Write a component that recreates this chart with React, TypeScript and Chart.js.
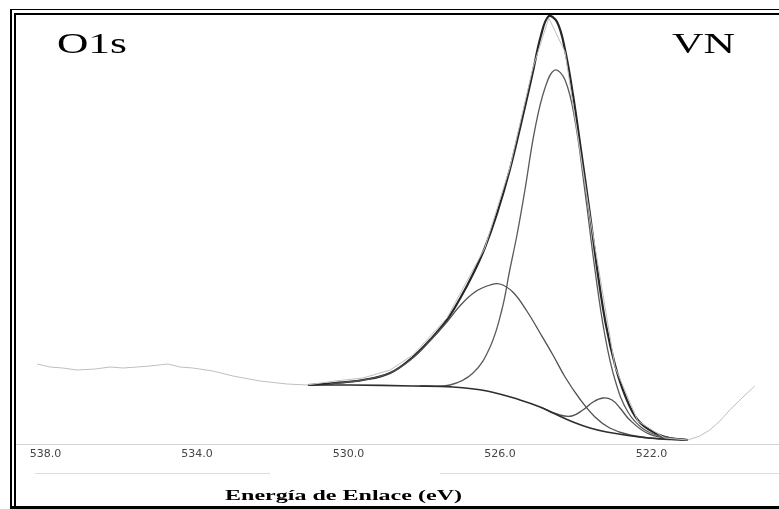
import React, { useEffect, useRef } from "react";
import { Chart, registerables } from "chart.js";

Chart.register(...registerables);

// Binding energy (eV) tick labels
const tickValues = [538, 534, 530, 526, 522];

// Raw spectrum (binding energy eV, intensity a.u.)
const rawEnergy = [538.22, 537.88, 537.55, 537.17, 536.69, 536.3, 535.95, 535.58, 535.24, 534.77, 534.45, 534.11, 533.58, 533.05, 532.34, 531.62, 531.1, 530.36, 529.62, 528.9, 528.3, 527.4, 526.4, 525.74, 525.13, 524.71, 524.28, 523.62, 522.96, 522.36, 521.64, 521.04, 520.72, 520.46, 520.19, 519.93, 519.58, 519.27];
const rawIntensity = [80, 77, 76, 74, 75, 77, 76, 77, 78, 80, 77, 76, 73, 68, 63, 60, 59, 63, 66, 74, 89, 126, 196, 276, 376, 426, 392, 227, 77, 23, 6, 4, 8, 14, 23, 34, 47, 58];

// Fitted envelope
const envEnergy = [531.07, 530.36, 529.62, 528.9, 528.3, 527.85, 527.4, 527.06, 526.71, 526.4, 526.08, 525.74, 525.42, 525.13, 524.92, 524.71, 524.49, 524.28, 524.07, 523.86, 523.62, 523.41, 523.2, 522.96, 522.7, 522.36, 521.91, 521.51, 521.04];
const envIntensity = [59, 61, 64, 71, 87, 104, 124, 145, 170, 196, 230, 274, 324, 372, 408, 428, 422, 394, 349, 294, 229, 169, 119, 79, 49, 24, 11, 6, 4];

// Shirley background
const bgEnergy = [531.07, 529.96, 528.3, 527.24, 526.34, 525.47, 524.94, 524.6, 524.07, 523.62, 523.18, 522.31, 521.65, 521.04];
const bgIntensity = [59, 59, 58, 57, 53, 44, 37, 31, 22, 16, 12, 7, 5, 4];

// Component 1 (main peak ~524.5 eV)
const p1Energy = [528.11, 527.32, 526.71, 526.26, 525.95, 525.74, 525.55, 525.34, 525.08, 524.81, 524.55, 524.28, 524.02, 523.76, 523.49, 523.23, 522.96, 522.62, 522.17, 521.64, 521.04];
const p1Intensity = [58, 59, 71, 97, 134, 174, 209, 254, 314, 356, 374, 364, 324, 254, 174, 109, 64, 32, 14, 7, 4];

// Component 2 (broad peak ~526.1 eV)
const p2Energy = [530.49, 529.62, 528.9, 528.3, 527.85, 527.4, 527.06, 526.66, 526.26, 526.0, 525.66, 525.29, 524.94, 524.6, 524.28, 523.89, 523.49, 523.1, 522.57, 521.78, 521.04];
const p2Intensity = [60, 64, 71, 86, 103, 122, 138, 152, 159, 160, 152, 133, 111, 89, 67, 45, 27, 16, 9, 5, 4];

// Component 3 (small peak ~523.3 eV)
const p3Energy = [524.94, 524.42, 524.1, 523.81, 523.54, 523.28, 523.04, 522.83, 522.57, 522.12, 521.64, 521.04];
const p3Intensity = [37, 29, 28, 34, 42, 46, 44, 36, 24, 11, 6, 4];

const pts = (xs: number[], ys: number[]) => xs.map((x, i) => ({ x, y: ys[i] }));

const decorPlugin = {
  id: "decor",
  afterDraw(chart: any) {
    const ctx = chart.ctx as CanvasRenderingContext2D;
    const W = chart.width;
    ctx.save();
    // faint duplicate axis line
    ctx.strokeStyle = "#dcdcdc";
    ctx.lineWidth = 1;
    ctx.beginPath();
    ctx.moveTo(35, 473.5);
    ctx.lineTo(270, 473.5);
    ctx.moveTo(440, 473.5);
    ctx.lineTo(W, 473.5);
    ctx.stroke();
    // double frame
    ctx.fillStyle = "#000";
    ctx.fillRect(10, 9, 2, 500);
    ctx.fillRect(14, 13, 2, 496);
    ctx.fillRect(10, 9, W - 10, 1);
    ctx.fillRect(14, 13, W - 14, 2);
    ctx.fillRect(10, 506, W - 10, 3);

    const stretched = (text: string, x: number, baseline: number, width: number, font: string) => {
      ctx.save();
      ctx.font = font;
      ctx.fillStyle = "#000";
      ctx.textBaseline = "alphabetic";
      ctx.textAlign = "left";
      const w = ctx.measureText(text).width;
      ctx.translate(x, baseline);
      ctx.scale(width / w, 1);
      ctx.fillText(text, 0, 0);
      ctx.restore();
    };
    stretched("O1s", 57, 53, 70, "30px 'Liberation Serif'");
    stretched("VN", 672, 53, 63, "30px 'Liberation Serif'");
    stretched("Energía de Enlace (eV)", 225, 500, 237, "bold 14px 'Liberation Serif'");
    ctx.restore();
  },
};

export default function App() {
  const ref = useRef<HTMLCanvasElement>(null);
  useEffect(() => {
    if (!ref.current) return;
    const line = (data: any, color: string, width: number, tension = 0.4) => ({
      data,
      borderColor: color,
      borderWidth: width,
      pointRadius: 0,
      fill: false,
      tension,
    });
    const chart = new Chart(ref.current, {
      type: "line",
      data: {
        datasets: [
          line(pts(rawEnergy, rawIntensity), "#c4bcc4", 1, 0),
          line(pts(bgEnergy, bgIntensity), "#2e2e2e", 1.6),
          line(pts(p2Energy, p2Intensity), "#505050", 1.3),
          line(pts(p3Energy, p3Intensity), "#505050", 1.3),
          line(pts(p1Energy, p1Intensity), "#5a5a5a", 1.3),
          line(pts(envEnergy, envIntensity), "#262626", 2.2),
        ] as any,
      },
      options: {
        responsive: false,
        animation: false,
        devicePixelRatio: 1,
        layout: { padding: { left: 16, right: 0, top: 15, bottom: 0 } },
        plugins: { legend: { display: false }, tooltip: { enabled: false } },
        scales: {
          x: {
            type: "linear",
            reverse: true,
            min: 518.63,
            max: 538.78,
            afterBuildTicks: (scale: any) => {
              scale.ticks = tickValues.map((v) => ({ value: v }));
            },
            afterFit: (scale: any) => {
              scale.height = 65;
            },
            grid: { display: false, drawTicks: false },
            border: { display: true, color: "#d4d4d4", width: 1 },
            ticks: {
              padding: 4,
              color: "#444",
              font: { family: "'DejaVu Sans'", size: 11 },
              maxRotation: 0,
              autoSkip: false,
              callback: (v: any) => Number(v).toFixed(1),
            },
          },
          y: { display: false, min: 0, max: 429 },
        },
      } as any,
      plugins: [decorPlugin],
    });
    return () => chart.destroy();
  }, []);
  return (
    <canvas
      ref={ref}
      width={779}
      height={509}
      style={{ position: "fixed", left: 0, top: 0, width: 779, height: 509, display: "block", background: "#fff" }}
    />
  );
}
